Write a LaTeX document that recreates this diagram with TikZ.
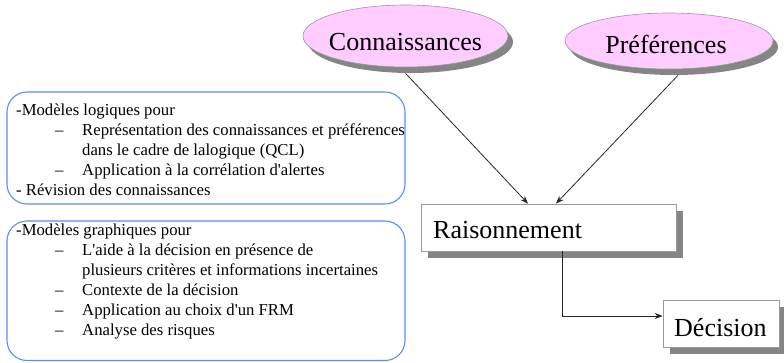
\documentclass[tikz,border=0pt]{standalone}
\usepackage{fontspec}
\setmainfont{Liberation Serif}[Ligatures=TeXOff]
\usetikzlibrary{shapes.geometric,shadows,arrows.meta,calc}
\definecolor{pinkfill}{HTML}{FFCCFF}
\definecolor{shadowgray}{HTML}{858585}
\definecolor{framegray}{HTML}{9A9A9A}
\definecolor{listblue}{HTML}{5A8CF5}
\tikzset{
  concept/.style={ellipse, draw=framegray, line width=0.6pt, fill=pinkfill, inner sep=0pt,
    general shadow={fill=shadowgray, shadow xshift=5pt, shadow yshift=-6pt}},
  stagebox/.style={rectangle, draw=framegray, line width=0.7pt, fill=white, inner sep=0pt,
    general shadow={fill=shadowgray, shadow xshift=7pt, shadow yshift=-7pt}},
  bigtext/.style={font=\fontsize{26}{30}\selectfont, inner sep=0pt, anchor=base},
  listtext/.style={font=\fontsize{16.7}{20}\selectfont, inner sep=0pt, anchor=base west},
  listframe/.style={draw=listblue, line width=1.1pt, rounded corners=20pt},
  link/.style={draw=black!85, line width=0.8pt, -{Stealth[length=8pt,width=6pt]}}
}
\begin{document}
\begin{tikzpicture}[x=1pt,y=-1pt]
\useasboundingbox (0,0) rectangle (784,362);

% rounded frames of the two lists
\draw[listframe] (7,92) rectangle (405,204);
\draw[listframe] (7,221) rectangle (405,360.5);

% first list: logical models
\node[listtext] (l1) at (16,115) {-Modèles logiques pour};
\node[listtext] (l2d) at (55,135) {–};
\node[listtext] (l2) at (82,135) {Représentation des connaissances et préférences};
\node[listtext] (l3) at (82,155) {dans le cadre de lalogique (QCL)};
\node[listtext] (l4d) at (55,175) {–};
\node[listtext] (l4) at (82,175) {Application à la corrélation d'alertes};
\node[listtext] (l5) at (16,195) {- Révision des connaissances};

% second list: graphical models
\node[listtext] (g1) at (16,235) {-Modèles graphiques pour};
\node[listtext] (g2d) at (55,255) {–};
\node[listtext] (g2) at (82,255) {L'aide à la décision en présence de};
\node[listtext] (g3) at (82,275) {plusieurs critères et informations incertaines};
\node[listtext] (g4d) at (55,295) {–};
\node[listtext] (g4) at (82,295) {Contexte de la décision};
\node[listtext] (g5d) at (55,315) {–};
\node[listtext] (g5) at (82,315) {Application au choix d'un FRM};
\node[listtext] (g6d) at (55,335) {–};
\node[listtext] (g6) at (82,335) {Analyse des risques};

% inputs
\node[concept, minimum width=205pt, minimum height=62pt] (conn) at (405.5,36) {};
\node[bigtext] (conntxt) at (405.5,50) {Connaissances};
\node[concept, minimum width=208pt, minimum height=56pt] (pref) at (669,41) {};
\node[bigtext] (preftxt) at (666,53) {Préférences};

% reasoning and decision stages
\node[stagebox, minimum width=255pt, minimum height=47pt] (rais) at (548.5,227.5) {};
\node[bigtext, anchor=base west] (raistxt) at (433,238) {Raisonnement};
\node[stagebox, minimum width=116pt, minimum height=47pt] (dec) at (721,323.5) {};
\node[bigtext, anchor=base west] (dectxt) at (674,336) {Décision};

% connectors
\draw[link] ($(conn.south)+(0,6)$) -- ($(rais.north)+(-20.5,0)$);
\draw[link] ($(pref.south)+(9,6)$) -- ($(rais.north)+(7.5,0)$);
\draw[link] ($(rais.south)+(13.5,0)$) |- ($(dec.west)+(0,-7.5)$);
\end{tikzpicture}
\end{document}
